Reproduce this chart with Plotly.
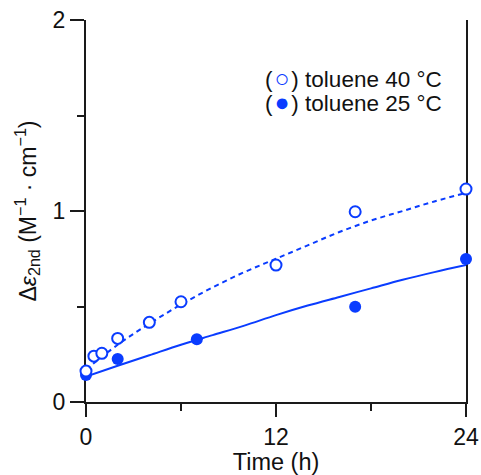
import plotly.graph_objects as go

# measured points
t_40 = [0, 0.5, 1, 2, 4, 6, 12, 17, 24]
de_40 = [0.162, 0.24, 0.255, 0.333, 0.417, 0.525, 0.717, 0.996, 1.115]

t_25 = [0, 2, 7, 17, 24]
de_25 = [0.141, 0.225, 0.328, 0.499, 0.749]

# fitted curves
t_fit = [0, 2, 4, 6, 8, 10, 12, 14, 16, 18, 20, 22, 24]
fit_40 = [0.17, 0.30, 0.41, 0.51, 0.60, 0.68, 0.75, 0.82, 0.89, 0.95, 1.00, 1.05, 1.095]
fit_25 = [0.133, 0.19, 0.245, 0.30, 0.35, 0.40, 0.455, 0.505, 0.55, 0.595, 0.64, 0.68, 0.717]

x_major = [0, 12, 24]
x_minor = [6, 18]
y_major = [0, 1, 2]
y_minor = [0.5, 1.5]

BLUE = "#0a3cff"
AXIS = "#1a1a1a"
FONT = "Liberation Sans, Arial, sans-serif"

fig = go.Figure()

fig.add_trace(go.Scatter(
    x=t_fit, y=fit_25, mode="lines", line=dict(color=BLUE, width=2, shape="spline"),
    cliponaxis=False, showlegend=False, hoverinfo="skip",
))
fig.add_trace(go.Scatter(
    x=t_fit, y=fit_40, mode="lines",
    line=dict(color=BLUE, width=2, dash="5px,4px", shape="spline"),
    cliponaxis=False, showlegend=False, hoverinfo="skip",
))
fig.add_trace(go.Scatter(
    x=t_25, y=de_25, mode="markers", name="toluene 25 °C",
    marker=dict(size=12, color=BLUE, line=dict(width=0)),
    cliponaxis=False, showlegend=False,
))
fig.add_trace(go.Scatter(
    x=t_40, y=de_40, mode="markers", name="toluene 40 °C",
    marker=dict(size=11, color="white", line=dict(width=2, color=BLUE)),
    cliponaxis=False, showlegend=False,
))

legend_lines = [
    ("(\u200a<span style='color:%s;font-size:25px;font-weight:bold'>○</span>\u200a) toluene 40 °C" % BLUE, 0.848),
    ("(\u200a<span style='color:%s;font-size:25px'>●</span>\u200a) toluene 25 °C" % BLUE, 0.785),
]
for text, yy in legend_lines:
    fig.add_annotation(
        text=text, xref="paper", yref="paper", x=0.942, y=yy,
        xanchor="right", yanchor="middle", showarrow=False,
        font=dict(size=22.5, family=FONT, color="#111111"),
    )

fig.update_layout(
    width=481,
    height=475,
    margin=dict(l=86, r=15, t=20, b=73),
    plot_bgcolor="white",
    paper_bgcolor="white",
    font=dict(family=FONT, size=22, color="#111111"),
    xaxis=dict(
        range=[0, 24],
        automargin=False,
        tickmode="array",
        tickvals=x_major,
        ticktext=[str(v) for v in x_major],
        ticks="outside",
        ticklen=13,
        tickwidth=2,
        tickcolor=AXIS,
        minor=dict(tickvals=x_minor, ticks="outside", ticklen=7, tickwidth=2, tickcolor=AXIS),
        showline=True,
        linecolor=AXIS,
        linewidth=2,
        mirror=False,
        showgrid=False,
        zeroline=False,
        layer="below traces",
        tickfont=dict(size=23),
        title=dict(text="Time (h)", font=dict(size=23.5), standoff=1),
    ),
    yaxis=dict(
        range=[0, 2],
        automargin=False,
        tickmode="array",
        tickvals=y_major,
        ticktext=[str(v) for v in y_major],
        ticks="outside",
        ticklen=14,
        tickwidth=2,
        tickcolor=AXIS,
        minor=dict(tickvals=y_minor, ticks="outside", ticklen=7, tickwidth=2, tickcolor=AXIS),
        showline=True,
        linecolor=AXIS,
        linewidth=2,
        mirror=True,
        showgrid=False,
        zeroline=False,
        layer="below traces",
        tickfont=dict(size=23),
        title=dict(
            text="Δ<i>ε</i><sub>2nd</sub> (M<sup>−1</sup> · cm<sup>−1</sup>)",
            font=dict(size=23),
            standoff=10,
        ),
    ),
)

# drop the default 8px page margin so the figure fills the window
fig.write_html(
    "out.html",
    config={"displayModeBar": False},
    post_script="document.body.style.margin='0';",
)
